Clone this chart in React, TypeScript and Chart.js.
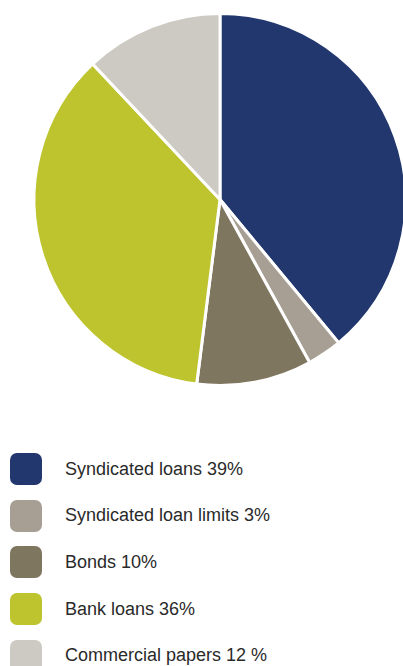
import React, { useEffect, useRef } from "react";
import { Chart, registerables } from "chart.js";

Chart.register(...registerables);

const labels = [
  "Syndicated loans 39%",
  "Syndicated loan limits 3%",
  "Bonds 10%",
  "Bank loans 36%",
  "Commercial papers 12 %",
];
const values = [39, 3, 10, 36, 12];
const colors = ["#22376e", "#a79f93", "#7f7660", "#bdc42e", "#cdc9c3"];

export default function App() {
  const ref = useRef<HTMLCanvasElement | null>(null);
  useEffect(() => {
    if (!ref.current) return;
    const chart = new Chart(ref.current, {
      type: "pie",
      data: {
        labels,
        datasets: [
          {
            data: values,
            backgroundColor: colors,
            borderColor: "#ffffff",
            borderWidth: 3,
          },
        ],
      },
      options: {
        responsive: false,
        animation: false,
        layout: { padding: { top: 12, bottom: 13, left: 0, right: 0 } },
        plugins: { legend: { display: false }, tooltip: { enabled: false } },
      },
    });
    return () => chart.destroy();
  }, []);

  return (
    <div
      style={{
        position: "fixed",
        left: 0,
        top: 0,
        width: 403,
        height: 666,
        overflow: "hidden",
        background: "#fff",
      }}
    >
      <canvas
        ref={ref}
        width={440}
        height={400}
        style={{ position: "absolute", left: 0, top: 0, width: 440, height: 400 }}
      />
      <div style={{ position: "absolute", left: 10, top: 453 }}>
        {labels.map((l, i) => (
          <div
            key={l}
            style={{ display: "flex", alignItems: "center", height: 32, marginBottom: 14.7 }}
          >
            <div
              style={{
                width: 32,
                height: 32,
                borderRadius: 7,
                background: colors[i],
                flexShrink: 0,
              }}
            />
            <span
              style={{
                marginLeft: 23,
                fontFamily: "'Liberation Sans', Arial, sans-serif",
                fontSize: 18,
                color: "#2a2a2a",
                whiteSpace: "nowrap",
              }}
            >
              {l}
            </span>
          </div>
        ))}
      </div>
    </div>
  );
}
